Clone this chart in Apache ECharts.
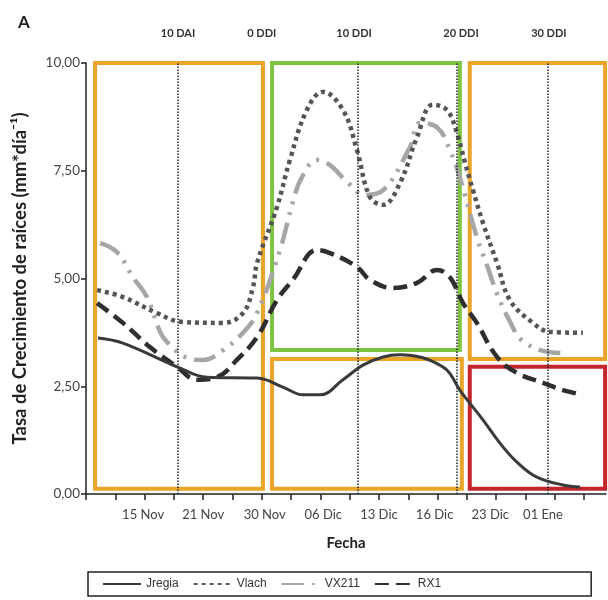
<!DOCTYPE html>
<html>
<head>
<meta charset="utf-8">
<script src="https://cdn.jsdelivr.net/npm/echarts@6/dist/echarts.min.js"></script>
<style>
  html, body { margin: 0; padding: 0; background: #fff; }
  #chart { width: 608px; height: 600px; }
</style>
</head>
<body>
<div id="chart"></div>
<script>
// x = sampling step (one tick per step), y = root growth rate (mm*dia-1)
var jregia = [[0.41,3.62],[1.26,3.50],[3.21,2.92],[4.13,2.71],[5.84,2.69],[6.72,2.48],[7.41,2.30],[7.99,2.30],
  [8.77,2.65],[9.45,2.99],[10.14,3.18],[10.72,3.23],[11.50,3.16],[12.18,2.95],[12.42,2.80],[12.76,2.41],
  [13.10,2.11],[13.55,1.72],[14.13,1.18],[14.71,0.74],[15.39,0.39],[16.28,0.21],[16.86,0.16]];
var vlach = [[0.38,4.73],[1.26,4.57],[2.42,4.20],[3.31,3.99],[4.68,3.97],[5.36,4.20],[5.70,4.80],[5.84,5.36],
  [6.52,6.66],[6.96,7.75],[7.54,8.91],[8.09,9.33],[8.77,8.91],[9.25,7.98],[9.69,6.89],[10.14,6.71],
  [10.72,7.22],[11.30,8.28],[11.84,9.03],[12.32,8.91],[12.66,8.38],[12.94,7.68],[13.21,7.05],[13.55,6.29],
  [14.03,5.36],[14.47,4.50],[15.26,3.97],[15.84,3.76],[16.96,3.74]];
var vx211 = [[0.48,5.82],[1.06,5.61],[1.60,5.03],[2.08,4.57],[2.53,3.76],[2.76,3.53],[3.45,3.16],[3.99,3.11],
  [4.68,3.34],[5.36,3.74],[5.84,4.20],[6.62,5.66],[7.06,6.77],[7.37,7.35],[7.88,7.75],[8.33,7.63],
  [8.94,7.22],[9.52,6.94],[10.14,7.05],[11.06,8.05],[11.40,8.61],[12.01,8.49],[12.42,7.98],[12.76,7.35],
  [13.34,5.96],[13.69,5.30],[14.03,4.65],[14.47,4.00],[14.91,3.55],[15.84,3.29],[16.42,3.27]];
var rx1 = [[0.38,4.43],[1.26,3.97],[2.18,3.41],[3.11,2.95],[3.79,2.65],[4.47,2.71],[5.15,3.11],[5.84,3.64],
  [6.52,4.50],[7.06,4.97],[7.88,5.66],[8.33,5.59],[9.25,5.27],[9.69,4.97],[10.48,4.78],[11.30,4.90],
  [11.98,5.20],[12.42,5.03],[12.87,4.43],[13.34,3.97],[14.03,3.18],[14.71,2.81],[15.60,2.58],[16.28,2.41],[16.96,2.30]];

var fechaLabels = ['15 Nov', '21 Nov', '30 Nov', '06 Dic', '13 Dic', '16 Dic', '23 Dic', '01 Ene'];
var fechaPos = [1.95, 4, 6.1, 8.1, 10, 11.9, 13.8, 15.6];
var tickPos = [0,1,2,3,4,5,6,7,8,9,10,11,12,13,14,15,16,17];
var etapaLabels = ['10 DAI', '0 DDI', '10 DDI', '20 DDI', '30 DDI'];
var etapaPos = [3.14, 6.0, 9.15, 12.8, 15.8];
var lineasPos = [3.14, 9.28, 12.66, 15.77];

var chart = echarts.init(document.getElementById('chart'));

// recuadros de las etapas [x1, y1, x2, y2, color]
var recuadros = [
  [0.31, 10.0, 6.04, 0.12, '#EBA42A'],
  [6.35, 10.0, 12.76, 3.34, '#7DC443'],
  [6.35, 3.13, 12.83, 0.12, '#EBA42A'],
  [13.1, 10.0, 17.72, 3.13, '#EBA42A'],
  [13.1, 2.95, 17.72, 0.12, '#C4262B']
];

var option = {
  animation: false,
  title: {
    text: 'A', left: 13, top: 9,
    textStyle: { fontSize: 17, fontWeight: 'bold', color: '#222', fontFamily: 'Lato' }
  },
  grid: { left: 86, top: 63, width: 520, height: 431 },
  legend: {
    left: 88, top: 572,
    orient: 'horizontal',
    borderColor: '#222', borderWidth: 1.5,
    padding: [6, 150, 6, 14],
    itemWidth: 38, itemHeight: 12, itemGap: 14,
    itemStyle: { opacity: 0 },
    textStyle: { fontSize: 12, color: '#333', fontFamily: 'Liberation Sans' },
    data: ['Jregia', 'Vlach', 'VX211', 'RX1']
  },
  xAxis: [{
    type: 'value', min: 0, max: 17.75,
    name: 'Fecha', nameLocation: 'middle', nameGap: 42,
    nameTextStyle: { fontSize: 15, fontWeight: 'bold', color: '#222', fontFamily: 'Lato' },
    axisLine: { show: true, onZero: false, lineStyle: { color: '#222', width: 1.5 } },
    axisTick: { show: true, length: 6, customValues: tickPos, lineStyle: { color: '#222', width: 1.5 } },
    axisLabel: {
      customValues: fechaPos, margin: 14, fontSize: 13, color: '#444', fontFamily: 'Lato',
      formatter: function (v) {
        var i = fechaPos.indexOf(v);
        return i >= 0 ? fechaLabels[i] : '';
      }
    },
    splitLine: { show: false }
  }, {
    type: 'value', min: 0, max: 17.75, position: 'top',
    axisLine: { show: false }, axisTick: { show: false }, splitLine: { show: false },
    axisLabel: {
      customValues: etapaPos, margin: 24, fontSize: 11, fontWeight: 'bold', color: '#333', fontFamily: 'Lato',
      formatter: function (v) {
        var i = etapaPos.indexOf(v);
        return i >= 0 ? etapaLabels[i] : '';
      }
    }
  }],
  yAxis: {
    type: 'value', min: 0, max: 10, interval: 2.5,
    name: 'Tasa de Crecimiento de raíces (mm*día⁻¹)', nameLocation: 'middle', nameGap: 56,
    nameTextStyle: { fontSize: 18.5, fontWeight: 'bold', color: '#222', fontFamily: 'Lato' },
    axisLine: { show: true, lineStyle: { color: '#222', width: 1.5 } },
    axisTick: { show: true, length: 5, lineStyle: { color: '#222', width: 1.5 } },
    axisLabel: {
      margin: 6, fontSize: 13.5, color: '#444', fontFamily: 'Lato',
      formatter: function (v) { return v.toFixed(2).replace('.', ','); }
    },
    splitLine: { show: false }
  },
  series: [{
    name: 'Jregia', type: 'line', data: jregia, smooth: 0.4, symbol: 'none', z: 5,
    lineStyle: { color: '#3a3a3a', width: 3 },
    itemStyle: { color: '#3a3a3a' },
    markArea: {
      silent: true,
      itemStyle: { color: 'rgba(0,0,0,0)', borderWidth: 4 },
      data: recuadros.map(function (r) {
        return [{ coord: [r[0], r[1]], itemStyle: { borderColor: r[4], color: 'rgba(0,0,0,0)', borderWidth: 4 } },
                { coord: [r[2], r[3]] }];
      })
    },
    markLine: {
      silent: true, symbol: ['none', 'none'], label: { show: false },
      lineStyle: { type: 'dotted', color: '#222', width: 1.5 },
      data: lineasPos.map(function (x) { return { xAxis: x }; })
    }
  }, {
    name: 'Vlach', type: 'line', data: vlach, smooth: 0.4, symbol: 'none', z: 4,
    lineStyle: { color: '#555', width: 4.5, type: [4, 4] },
    itemStyle: { color: '#555' }
  }, {
    name: 'VX211', type: 'line', data: vx211, smooth: 0.4, symbol: 'none', z: 3,
    lineStyle: { color: '#a6a6a6', width: 4.5, type: [22, 8, 3, 8, 3, 8] },
    itemStyle: { color: '#a6a6a6' }
  }, {
    name: 'RX1', type: 'line', data: rx1, smooth: 0.4, symbol: 'none', z: 4,
    lineStyle: { color: '#2e2e2e', width: 4.5, type: [14, 7] },
    itemStyle: { color: '#2e2e2e' }
  }]
};

chart.setOption(option);
</script>
</body>
</html>
